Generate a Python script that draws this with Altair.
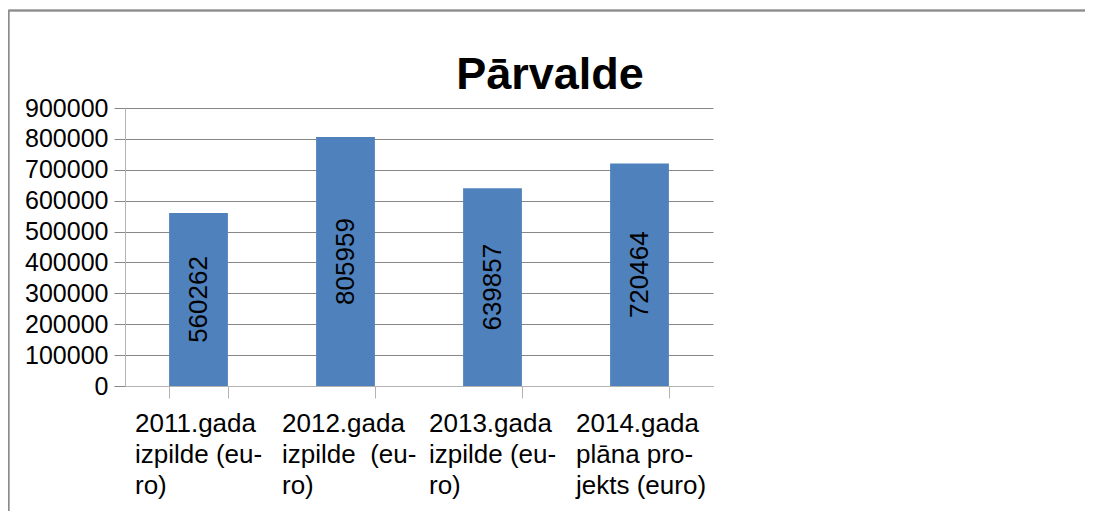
import altair as alt
import pandas as pd

categories = [
    "2011.gada|izpilde (eu-|ro)",
    "2012.gada|izpilde\u00a0 (eu-|ro)",
    "2013.gada|izpilde (eu-|ro)",
    "2014.gada|plāna pro-|jekts (euro)",
]
values = [560262, 805959, 639857, 720464]
y_ticks = [0, 100000, 200000, 300000, 400000, 500000, 600000, 700000, 800000, 900000]
title_text = "Pārvalde"

df = pd.DataFrame({"cat": categories, "val": values})

FONT = "Liberation Sans"
GRID = "#878787"
LIGHT = "#b3b3b3"
BAR = "#4f81bd"

x_axis = alt.Axis(
    labelExpr="split(datum.label, '|')",
    labelAngle=0,
    labelAlign="left",
    labelBaseline="top",
    labelOffset=-64,
    labelPadding=12,
    labelFontSize=26,
    labelLineHeight=31,
    labelFont=FONT,
    labelColor="black",
    labelLimit=0,
    tickBand="extent",
    tickSize=12,
    tickColor=LIGHT,
    domainColor=LIGHT,
    grid=False,
)
y_axis = alt.Axis(
    values=y_ticks,
    format="d",
    labelFontSize=25,
    labelFont=FONT,
    labelColor="black",
    labelPadding=6,
    labelOverlap=False,
    labelBound=False,
    labelFlush=False,
    tickSize=11,
    tickColor=GRID,
    gridColor=GRID,
    gridOpacity=1,
    domainColor=LIGHT,
)
x_scale = alt.Scale(paddingInner=0.6, paddingOuter=0.3)
y_scale = alt.Scale(domain=[0, 900000], nice=False, zero=True)

bars = alt.Chart(df).mark_bar(color=BAR).encode(
    x=alt.X("cat:N", sort=categories, title=None, scale=x_scale, axis=x_axis),
    y=alt.Y("val:Q", title=None, scale=y_scale, axis=y_axis),
)

labels = alt.Chart(df).transform_calculate(mid="datum.val / 2").mark_text(
    angle=270, align="center", baseline="middle", fontSize=26, font=FONT, color="black"
).encode(
    x=alt.X("cat:N", sort=categories, title=None, scale=x_scale, axis=x_axis),
    y=alt.Y("mid:Q", title=None, scale=y_scale, axis=y_axis),
    text=alt.Text("val:Q", format="d"),
)

frame_top = alt.Chart(df).mark_rule(color="#8c8c8c", strokeWidth=1.5).encode(
    x=alt.value(-116.5), x2=alt.value(970), y=alt.value(-97.5)
)
frame_left = alt.Chart(df).mark_rule(color="#8c8c8c", strokeWidth=1.5).encode(
    x=alt.value(-116.5), y=alt.value(-97.5), y2=alt.value(420)
)

chart = alt.layer(bars, labels, frame_top, frame_left).properties(
    width=588,
    height=278,
    background="white",
    autosize=alt.AutoSizeParams(type="none"),
    padding={"left": 117, "top": 100, "right": 372, "bottom": 125},
    title=alt.TitleParams(
        title_text,
        anchor="middle",
        dx=131,
        dy=104,
        fontSize=45,
        fontWeight="bold",
        font=FONT,
        color="black",
        offset=16,
    ),
).configure_view(stroke=None)

chart.save("out.html", embed_options={"renderer": "svg", "actions": False})
